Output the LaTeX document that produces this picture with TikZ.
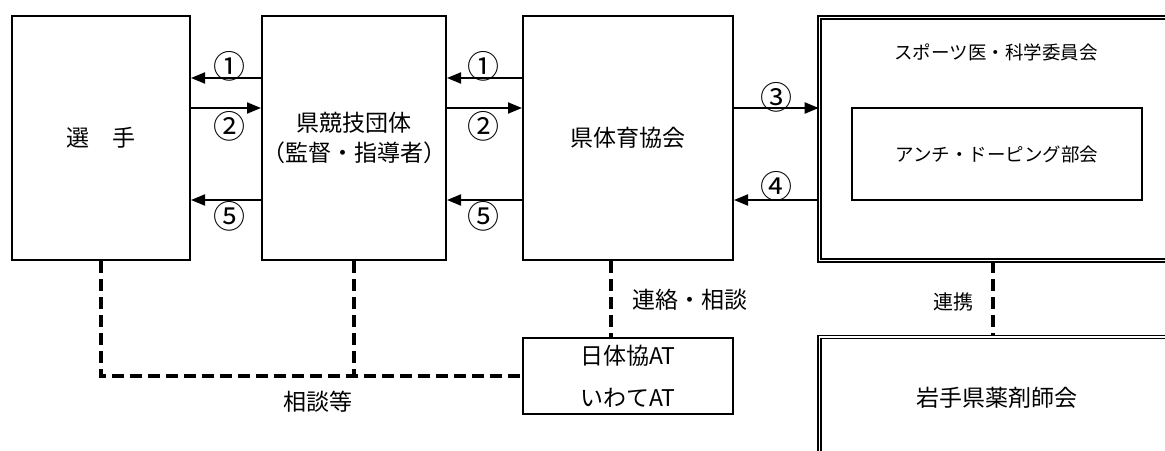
\documentclass[tikz,border=0pt]{standalone}
\usepackage{fontspec}
\setmainfont{Noto Sans CJK JP}
\usetikzlibrary{arrows.meta}
\newcommand{\bigfont}{\fontsize{23}{28}\selectfont}
\newcommand{\smallfont}{\fontsize{18.5}{22}\selectfont}
\newcommand{\numfont}{\fontsize{32}{34}\selectfont}
\tikzset{
  box/.style={draw, line width=2pt, minimum width=178pt, minimum height=244pt, inner sep=0pt, font=\bigfont},
  dbox/.style={draw, double, line width=1.6pt, double distance=1.6pt, inner sep=0pt, minimum width=355pt},
  arr/.style={-{Triangle[length=14pt,width=11pt]}, line width=2pt},
  link/.style={line width=3.5pt, dash pattern=on 12pt off 6pt},
  lbl/.style={font=\bigfont, inner sep=0pt},
  num/.style={font=\numfont, inner sep=0pt}
}
\begin{document}
\begin{tikzpicture}[x=1pt,y=-1pt]
  \useasboundingbox (0,0) rectangle (1165,450);
  \clip (0,0) rectangle (1165,450);
  % boxes
  \node[box] (senshu) at (101,138) {選　手};
  \node[box, align=center] (kyogi) at (354,138) {県競技団体\\[2pt]（監督・指導者）};
  \node[box, minimum width=210pt] (taikyo) at (628,138) {県体育協会};
  \node[dbox, minimum height=243pt] (iinkai) at (997,139) {};
  \node[font=\smallfont] (iinkainame) at (996,52) {スポーツ医・科学委員会};
  \node[draw, line width=2pt, minimum width=290pt, minimum height=92pt, font=\smallfont] (doping) at (997,154) {アンチ・ドーピング部会};
  \node[dbox, minimum height=122pt, font=\bigfont] (yakuzai) at (997,398) {岩手県薬剤師会};
  \node[draw, line width=2pt, minimum width=210pt, minimum height=76pt, align=center, font=\bigfont] (at) at (628,376) {日体協AT\\[14pt]いわてAT};
  % arrows
  \begin{scope}[arr]
    \draw (kyogi.west |- 0,78) -- (senshu.east |- 0,78);
    \draw (senshu.east |- 0,108) -- (kyogi.west |- 0,108);
    \draw (kyogi.west |- 0,200) -- (senshu.east |- 0,200);
    \draw (taikyo.west |- 0,78) -- (kyogi.east |- 0,78);
    \draw (kyogi.east |- 0,108) -- (taikyo.west |- 0,108);
    \draw (taikyo.west |- 0,200) -- (kyogi.east |- 0,200);
    \draw (taikyo.east |- 0,108) -- (iinkai.west |- 0,108);
    \draw (iinkai.west |- 0,200) -- (taikyo.east |- 0,200);
  \end{scope}
  \node[num] (l1a) at (229,66) {①};
  \node[num] (l2a) at (229,126) {②};
  \node[num] (l5a) at (229,216) {⑤};
  \node[num] (l1b) at (483,66) {①};
  \node[num] (l2b) at (483,126) {②};
  \node[num] (l5b) at (483,216) {⑤};
  \node[num] (l3) at (776,97) {③};
  \node[num] (l4) at (776,186) {④};
  % dashed links
  \draw[link] (senshu.south) -- (senshu.south |- at.west) -- (at.west);
  \draw[link] (kyogi.south) -- (kyogi.south |- at.west);
  \draw[link] (taikyo.south -| 611,0) -- (at.north -| 611,0);
  \draw[link] (iinkai.south -| 993,0) -- (yakuzai.north -| 993,0);
  \node[lbl] (renraku) at (690,300) {連絡・相談};
  \node[font=\fontsize{20}{24}\selectfont] (renkei) at (953,302) {連携};
  \node[lbl] (sodan) at (318,402) {相談等};
\end{tikzpicture}
\end{document}
